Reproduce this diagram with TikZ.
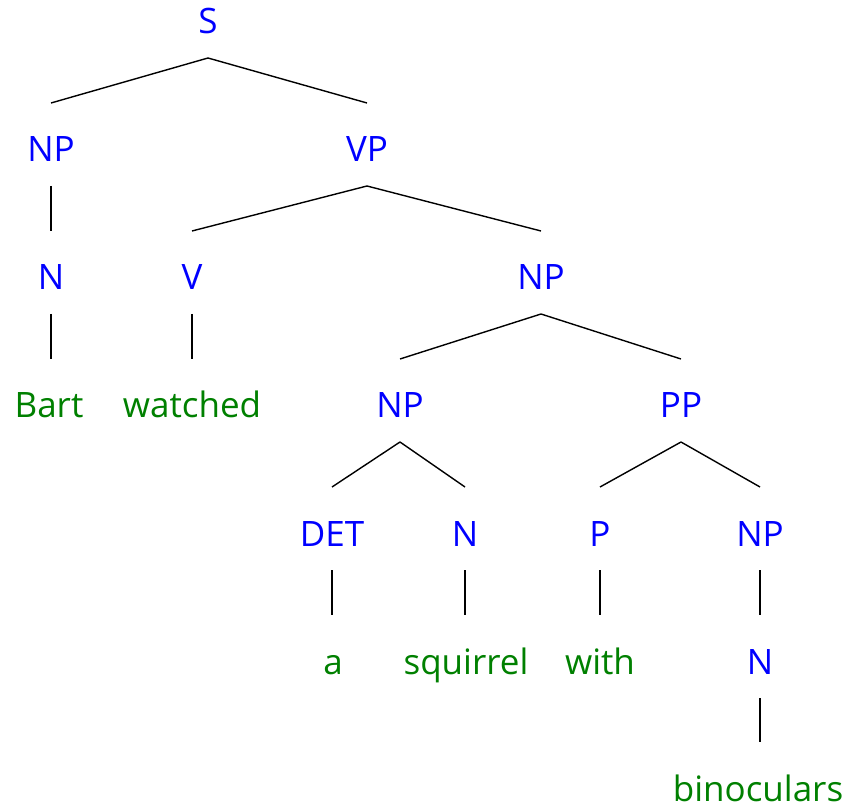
\documentclass[tikz,border=0pt]{standalone}
\usepackage{fontspec}
\setmainfont{Open Sans}
\definecolor{catblue}{RGB}{0,0,255}
\definecolor{wordgreen}{RGB}{0,128,0}
\begin{document}
\begin{tikzpicture}[x=1pt,y=1pt,
  cat/.style={anchor=base,inner sep=0pt,text=catblue,font=\fontsize{35}{38}\selectfont},
  word/.style={anchor=base,inner sep=0pt,text=wordgreen,font=\fontsize{35}{38}\selectfont},
  edge/.style={line width=1.4pt,black}]
\useasboundingbox (0,0) rectangle (851,807);
% base y = 807 - (center + 12)
\node[cat] (S) at (208,773) {S};
\node[cat] (NPa) at (51,645) {NP};
\node[cat] (VP) at (367,645) {VP};
\node[cat] (Na) at (51,517) {N};
\node[cat] (V) at (192,517) {V};
\node[cat] (NPb) at (541,517) {NP};
\node[word] (Bart) at (49,389) {Bart};
\node[word] (watched) at (192,389) {watched};
\node[cat] (NPc) at (400,389) {NP};
\node[cat] (PP) at (681,389) {PP};
\node[cat] (DET) at (332,261) {DET};
\node[cat] (Nb) at (465,261) {N};
\node[cat] (P) at (600,261) {P};
\node[cat] (NPd) at (760,261) {NP};
\node[word] (a) at (333,133) {a};
\node[word] (squirrel) at (466,133) {squirrel};
\node[word] (with) at (600,133) {with};
\node[cat] (Nc) at (760,133) {N};
\node[word] (binoculars) at (758,6) {binoculars};
\foreach \p/\c in {S/NPa,S/VP,VP/V,VP/NPb,NPb/NPc,NPb/PP,
  NPc/DET,NPc/Nb,PP/P,PP/NPd}
  \draw[edge] ([yshift=-24pt]\p.base) -- ([yshift=59pt]\c.base);
\foreach \p/\c in {NPa/Na,Na/Bart,V/watched,DET/a,Nb/squirrel,P/with,NPd/Nc,Nc/binoculars}
  \draw[edge] ([yshift=-24pt]\p.base) -- ([yshift=59pt]\p.base |- \c.base);
\end{tikzpicture}
\end{document}
